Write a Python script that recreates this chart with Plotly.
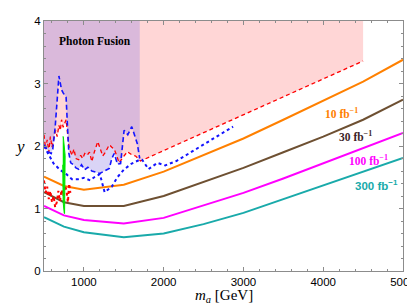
import plotly.graph_objects as go

# ---- data ----
mass = [500, 750, 1000, 1500, 2000, 2500, 3000, 3500, 4000, 4500, 5000]
y_10fb = [1.51, 1.36, 1.30, 1.38, 1.59, 1.86, 2.12, 2.42, 2.72, 3.03, 3.38]
y_30fb = [1.26, 1.10, 1.04, 1.04, 1.20, 1.42, 1.65, 1.90, 2.15, 2.42, 2.74]
y_100fb = [1.04, 0.89, 0.815, 0.76, 0.85, 1.05, 1.25, 1.48, 1.72, 1.96, 2.21]
y_300fb = [0.86, 0.71, 0.62, 0.54, 0.60, 0.75, 0.93, 1.15, 1.37, 1.59, 1.81]

red_dash_x = [500, 520, 540, 560, 580, 600, 620, 645, 665, 687, 705, 720, 740, 760, 777, 795,
              811, 830, 852, 875, 900, 935, 960, 985, 1010, 1040, 1070, 1100, 1130, 1174, 1205,
              1236, 1270, 1318, 1350, 1380, 1410, 1442, 1480, 1520, 1545, 1600, 1648, 1710, 4500]
red_dash_y = [2.18, 1.95, 2.10, 1.90, 2.15, 1.98, 2.10, 2.25, 2.15, 2.33, 2.25, 2.42, 2.30, 2.38, 2.42, 2.20,
              2.00, 1.92, 1.85, 1.95, 1.80, 1.78, 1.85, 1.80, 1.88, 1.85, 1.90, 1.75, 1.90, 2.07, 1.95,
              1.84, 1.90, 2.02, 1.98, 1.95, 1.85, 1.73, 1.80, 1.88, 1.91, 1.86, 1.84, 1.76, 3.36]

red_dot_x = [500, 520, 540, 560, 580, 600, 620, 640, 660, 680, 700, 720, 740, 760, 780, 800, 815, 830]
red_dot_y = [1.45, 1.25, 1.35, 1.15, 1.28, 1.10, 1.20, 1.02, 1.10, 1.28, 1.12, 1.30, 1.20, 1.37, 1.30, 1.10, 1.40, 1.25]

blue_dash_x = [500, 530, 560, 590, 610, 640, 665, 687, 705, 720, 740, 760, 777, 795, 811, 835, 870,
               900, 935, 970, 1010, 1050, 1100, 1150, 1200, 1256, 1318, 1350, 1380, 1421, 1460,
               1504, 1550, 1600, 1640, 1669, 1700]
blue_dash_y = [2.02, 1.95, 1.90, 1.88, 1.95, 2.30, 2.80, 3.12, 3.00, 2.90, 2.85, 2.80, 2.78, 2.30, 1.89, 1.73, 1.70,
               1.65, 1.63, 1.70, 1.62, 1.66, 1.60, 1.58, 1.56, 1.60, 1.64, 1.80, 1.88, 1.71, 1.72,
               2.25, 2.18, 2.31, 2.15, 2.04, 1.80]

blue_dot_x = [500, 560, 620, 700, 780, 820, 850, 930, 1000, 1080, 1130, 1200, 1260, 1300, 1350,
              1420, 1500, 1600, 1700, 1730, 1810, 1920, 2020, 2160, 2870]
blue_dot_y = [2.00, 1.85, 1.72, 1.62, 1.55, 1.50, 1.47, 1.47, 1.49, 1.45, 1.50, 1.55, 1.26, 1.30, 1.35,
              1.50, 1.62, 1.72, 1.78, 1.78, 1.63, 1.73, 1.69, 1.76, 2.31]

green_x = [735, 742, 765, 765, 758, 754, 740, 735]
green_y = [2.15, 2.15, 1.85, 1.10, 0.92, 0.92, 1.10, 1.70]

x_range = [500, 5000]
y_range = [0, 4]
pink_right = 4500
fusion_right = 1700

lum_labels = ["10 fb<sup>−1</sup>", "30 fb<sup>−1</sup>", "100 fb<sup>−1</sup>", "300 fb<sup>−1</sup>"]
lum_label_x = [4232, 4406, 4566, 4672]
lum_label_y = [2.53, 2.16, 1.77, 1.38]

# ---- figure ----
fig = go.Figure()

# pink excluded region (above red dashed)
fig.add_trace(go.Scatter(
    x=red_dash_x + [pink_right, x_range[0]],
    y=red_dash_y + [y_range[1], y_range[1]],
    fill="toself", fillcolor="rgba(255,0,0,0.16)", line=dict(width=0),
    mode="lines", hoverinfo="skip", showlegend=False))

# photon fusion region (above blue dashed)
fig.add_trace(go.Scatter(
    x=blue_dash_x + [fusion_right, x_range[0]],
    y=blue_dash_y + [y_range[1], y_range[1]],
    fill="toself", fillcolor="rgba(149,131,228,0.35)", line=dict(width=0),
    mode="lines", hoverinfo="skip", showlegend=False))

curve_colors = ["rgb(255,128,0)", "rgb(110,80,50)", "rgb(255,0,255)", "rgb(25,170,170)"]
for ys, c in zip([y_10fb, y_30fb, y_100fb, y_300fb], curve_colors):
    fig.add_trace(go.Scatter(x=mass, y=ys, mode="lines",
                             line=dict(color=c, width=2), showlegend=False))

fig.add_trace(go.Scatter(x=red_dash_x, y=red_dash_y, mode="lines",
                         line=dict(color="rgb(255,0,0)", width=1.3, dash="4px,3px"),
                         showlegend=False))
fig.add_trace(go.Scatter(x=red_dot_x, y=red_dot_y, mode="lines",
                         line=dict(color="rgb(255,0,0)", width=2, dash="dot"),
                         showlegend=False))
fig.add_trace(go.Scatter(x=blue_dash_x, y=blue_dash_y, mode="lines",
                         line=dict(color="rgb(20,20,255)", width=1.6, dash="5px,3px"),
                         showlegend=False))
fig.add_trace(go.Scatter(x=blue_dot_x, y=blue_dot_y, mode="lines",
                         line=dict(color="rgb(20,20,255)", width=2, dash="dot"),
                         showlegend=False))
fig.add_trace(go.Scatter(x=green_x, y=green_y, fill="toself", fillcolor="rgb(0,230,0)",
                         mode="lines", line=dict(color="rgb(0,230,0)", width=1),
                         showlegend=False))

label_colors = ["rgb(255,128,0)", "rgb(60,30,40)", "rgb(255,0,255)", "rgb(25,170,170)"]
label_fonts = ["Liberation Serif", "Liberation Serif", "Liberation Serif", "Liberation Sans"]
for t, lx, ly, c, f in zip(lum_labels, lum_label_x, lum_label_y, label_colors, label_fonts):
    fig.add_annotation(x=lx, y=ly, text="<b>" + t + "</b>", showarrow=False,
                       font=dict(family=f, size=11.5, color=c),
                       xanchor="center", yanchor="middle")

fig.add_annotation(x=1143, y=3.68, text="<b>Photon Fusion</b>", showarrow=False,
                   font=dict(family="Liberation Serif", size=11.5, color="black"),
                   xanchor="center", yanchor="middle")

# axis titles
fig.add_annotation(xref="paper", yref="paper", x=0.5, y=-0.098,
                   text="<i>m</i><sub><i>a</i></sub> [GeV]", showarrow=False,
                   font=dict(family="Liberation Serif", size=15, color="black"),
                   xanchor="center", yanchor="middle")
fig.add_annotation(xref="paper", yref="paper", x=-0.066, y=0.5,
                   text="<i>y</i>", showarrow=False,
                   font=dict(family="Liberation Serif", size=17, color="black"),
                   xanchor="center", yanchor="middle")

axis_common = dict(showgrid=False, zeroline=False, showline=True, linecolor="rgb(140,140,140)",
                   linewidth=1, mirror="ticks", ticks="inside", ticklen=4,
                   tickcolor="rgb(140,140,140)",
                   tickfont=dict(family="Liberation Sans", size=11.5, color="black"))

fig.update_xaxes(range=x_range, tickvals=[1000, 2000, 3000, 4000, 5000],
                 minor=dict(tickmode="linear", tick0=0, dtick=200, ticks="inside", ticklen=2,
                            tickcolor="rgb(140,140,140)"),
                 **axis_common)
fig.update_yaxes(range=y_range, tickvals=[0, 1, 2, 3, 4],
                 minor=dict(tickmode="linear", tick0=0, dtick=0.2, ticks="inside", ticklen=2,
                            tickcolor="rgb(140,140,140)"),
                 **axis_common)

fig.update_layout(width=415, height=307, margin=dict(l=36, r=16, t=7, b=44),
                  plot_bgcolor="white", paper_bgcolor="white", showlegend=False)

fig.write_html("out.html")
